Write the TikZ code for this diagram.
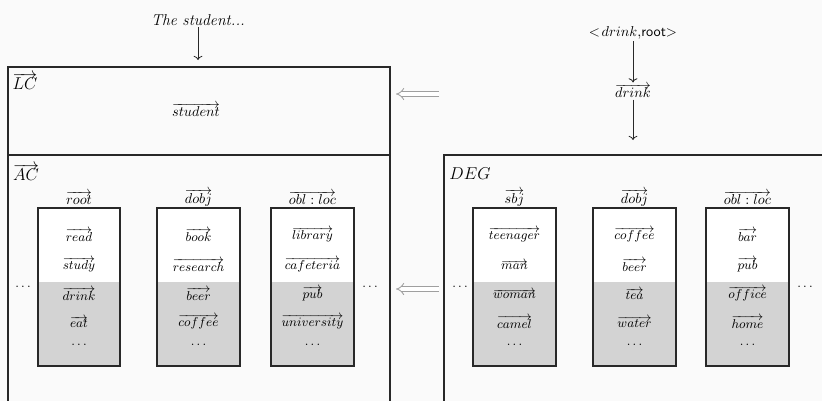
\documentclass[tikz,border=0pt]{standalone}
\usetikzlibrary{arrows.meta}
\definecolor{bgc}{RGB}{250,250,250}
\definecolor{cellgray}{RGB}{211,211,211}
\definecolor{linec}{RGB}{40,40,40}
\newcommand\mycol[8]{%
  \fill[white] (#2,208) rectangle (#3,282);
  \fill[cellgray] (#2,282) rectangle (#3,366);
  \draw[colbox] (#2,208) rectangle (#3,366);
  \node[head] (#1-h) at ({(#2+#3)/2},198) {$\overrightarrow{#4}$};
  \node[item] (#1-a) at ({(#2+#3)/2},235) {$\overrightarrow{#5}$};
  \node[item] (#1-b) at ({(#2+#3)/2},265) {$\overrightarrow{#6}$};
  \node[item] (#1-c) at ({(#2+#3)/2},294) {$\overrightarrow{#7}$};
  \node[item] (#1-d) at ({(#2+#3)/2},322) {$\overrightarrow{#8}$};
  \node[item] (#1-e) at ({(#2+#3)/2},345) {$\ldots$};
}
\begin{document}
\begin{tikzpicture}[x=0.7pt,y=-0.7pt,
  outer/.style={draw=linec, line width=1pt},
  colbox/.style={draw=linec, line width=0.8pt},
  item/.style={font=\small, inner sep=0.5pt},
  head/.style={font=\normalsize, inner sep=0.5pt},
  lab/.style={font=\fontsize{13}{15}\selectfont, inner sep=0pt},
  dotsn/.style={inner sep=1pt, font=\small},
  flow/.style={->, line width=0.6pt, draw=linec},
  feed/.style={draw=gray!75, double=white, double distance=2.4pt, line width=0.6pt, -{Implies}}]
\useasboundingbox (0,0) rectangle (822,401);
\clip (0,0) rectangle (822,401);
\fill[bgc] (0,0) rectangle (822,401);

% top-left input
\node[font=\fontsize{11}{13}\selectfont, inner sep=1pt] (ts) at (198,20) {\textit{The student...}};
\coordinate (lcin) at (198,60);
\draw[flow] (ts) -- (lcin);

% LC and AC boxes
\draw[outer] (8,410) -- (8,67) -- (390,67) -- (390,410);
\draw[outer] (8,155) -- (390,155);
\node[lab] (lc) at (25,81) {$\overrightarrow{LC}$};
\node[inner sep=1pt] (stu) at (196,110) {$\overrightarrow{student}$};
\node[lab] (ac) at (26,172) {$\overrightarrow{AC}$};

\mycol{c1}{38}{120}{root}{read}{study}{drink}{eat}
\mycol{c2}{157}{240}{dobj}{book}{research}{beer}{coffee}
\mycol{c3}{271}{354}{obl:loc}{library}{cafeteria}{pub}{university}
\node[dotsn] (acl) at (23,287) {$\ldots$};
\node[dotsn] (acr) at (370,287) {$\ldots$};

% right input
\node[inner sep=1pt] (pair) at (633,33) {$<\!drink$,\textsf{root}$>$};
\node[inner sep=1pt] (dv) at (633,91) {$\overrightarrow{drink}$};
\coordinate (degin) at (633,140);
\draw[flow] (pair) -- (dv);
\draw[flow] (dv) -- (degin);

% DEG box
\draw[outer] (444,410) -- (444,155) -- (830,155);
\node[lab] (deg) at (470,174) {$DEG$};
\mycol{d1}{473}{556}{sbj}{teenager}{man}{woman}{camel}
\mycol{d2}{593}{676}{dobj}{coffee}{beer}{tea}{water}
\mycol{d3}{706}{789}{obl:loc}{bar}{pub}{office}{home}
\node[dotsn] (degl) at (460,287) {$\ldots$};
\node[dotsn] (degr) at (805,287) {$\ldots$};

% feedback arrows
\coordinate (f1t) at (439,94);
\coordinate (f1h) at (396,94);
\coordinate (f2t) at (439,289);
\coordinate (f2h) at (396,289);
\draw[feed] (f1t) -- (f1h);
\draw[feed] (f2t) -- (f2h);
\end{tikzpicture}
\end{document}
